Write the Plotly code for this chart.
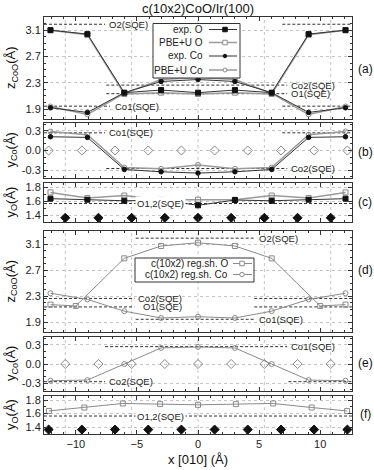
import plotly.graph_objects as go
from plotly.subplots import make_subplots

W, H = 374, 470
ML, MR, MT, MB = 44, 22, 17, 36
PW = W - ML - MR
PH = H - MT - MB
FONT = "Liberation Sans, Arial, sans-serif"

# ---------------- data ----------------
x_site = [-12.07, -9.05, -6.03, -3.02, 0.0, 3.02, 6.03, 9.05, 12.07]
x_ir = [-10.86, -8.145, -5.43, -2.715, 0.0, 2.715, 5.43, 8.145, 10.86]
x_ir_half = [-12.22, -9.50, -6.79, -4.07, -1.36, 1.36, 4.07, 6.79, 9.50, 12.22]

# (a) z_CoO
a_O_exp = [3.10, 3.04, 2.15, 2.19, 2.15, 2.19, 2.15, 3.04, 3.10]
a_O_pbe = [3.10, 3.03, 2.13, 2.15, 2.13, 2.15, 2.13, 3.03, 3.10]
a_Co_exp = [1.92, 1.85, 2.15, 2.32, 2.35, 2.32, 2.15, 1.85, 1.92]
a_Co_pbe = [1.94, 1.82, 2.14, 2.35, 2.38, 2.35, 2.14, 1.82, 1.94]
# (b) y_Co
b_Co_exp = [0.21, 0.20, -0.29, -0.325, -0.345, -0.325, -0.29, 0.20, 0.21]
b_Co_pbe = [0.29, 0.24, -0.26, -0.28, -0.22, -0.28, -0.26, 0.24, 0.29]
b_Ir = [0.0] * 10
# (c) y_O
c_O_exp = [1.635, 1.62, 1.605, 1.615, 1.54, 1.615, 1.605, 1.62, 1.635]
c_O_pbe = [1.725, 1.645, 1.68, 1.62, 1.62, 1.62, 1.68, 1.645, 1.725]
c_Ir = [1.36] * 9
# (d) z_CoO regular shift
d_x_O = [-12.07, -10.0, -6.03, -3.02, 0.0, 3.02, 6.03, 10.0, 12.07]
d_O = [2.17, 2.15, 2.88, 3.07, 3.12, 3.07, 2.88, 2.15, 2.17]
d_Co = [2.345, 2.25, 2.07, 1.965, 1.985, 1.965, 2.07, 2.25, 2.345]
# (e) y_Co regular shift
e_Co = [-0.26, -0.25, 0.0, 0.25, 0.265, 0.25, 0.0, -0.25, -0.26]
e_Ir = [0.0] * 9
# (f) y_O regular shift
f_x_O = [-12.2, -9.3, -6.15, -3.1, 0.0, 3.1, 6.15, 9.3, 12.2]
f_O = [1.64, 1.69, 1.75, 1.74, 1.73, 1.74, 1.75, 1.69, 1.64]
f_Ir = [1.365] * 10

# SQE reference values
sqe_O2, sqe_Co2, sqe_O1, sqe_Co1 = 3.19, 2.265, 2.135, 1.945
sqe_yCo1, sqe_yCo2 = 0.27, -0.275
sqe_yO = 1.565

x_grid = [-10.86, -5.43, 0.0, 5.43, 10.86]
x_ticks = [-10, -5, 0, 5, 10]

# ---------------- figure ----------------
fig = make_subplots(rows=6, cols=1, shared_xaxes=True, vertical_spacing=0.01)

def py2paper(py):
    return 1 - (py - MT) / PH

def px2paper(px):
    return (px - ML) / PW

panel_px = {1: (17, 119), 2: (123, 178), 3: (183, 222), 4: (231, 332), 5: (337, 391), 6: (396, 434)}

BLACK = "#111111"
DARK = "#333333"
GRAY = "#8a8a8a"
LGRAY = "#9a9a9a"
LBL = 9.5

def line_trace(x, y, row, color, width, symbol, msize, mfill, mline, name):
    fig.add_trace(go.Scatter(
        x=x, y=y, mode="lines+markers", name=name, showlegend=False,
        line=dict(color=color, width=width),
        marker=dict(symbol=symbol, size=msize, color=mfill, line=dict(color=mline, width=1)),
    ), row=row, col=1)

def pts(x, y, row, symbol, size, fill, edge, name):
    fig.add_trace(go.Scatter(
        x=x, y=y, mode="markers", name=name, showlegend=False,
        marker=dict(symbol=symbol, size=size, color=fill, line=dict(color=edge, width=1)),
    ), row=row, col=1)

def sqe(row, yv, segs, label, lx, anchor="left"):
    for (x0, x1) in segs:
        fig.add_trace(go.Scatter(x=[x0, x1], y=[yv, yv], mode="lines", showlegend=False,
                                 hoverinfo="skip",
                                 line=dict(color=DARK, width=1, dash="3px,2px")), row=row, col=1)
    if label:
        xr = "x" if row == 1 else f"x{row}"
        yr = "y" if row == 1 else f"y{row}"
        fig.add_annotation(x=lx, y=yv, xref=xr, yref=yr, text=label, showarrow=False,
                           xanchor=anchor, yanchor="middle",
                           font=dict(family=FONT, size=LBL, color="#222"))

L, R = -12.6, 12.6

# (a)
sqe(1, sqe_O2, [(L, -7.6), (6.9, R)], "O2(SQE)", -7.45)
sqe(1, sqe_Co2, [(-7.5, 7.3)], "Co2(SQE)", 7.45)
sqe(1, sqe_O1, [(-7.5, 7.3)], "O1(SQE)", 7.45)
sqe(1, sqe_Co1, [(L, -7.2), (6.9, R)], "Co1(SQE)", -6.95)
line_trace(x_site, a_O_pbe, 1, LGRAY, 1.5, "square-open", 5, GRAY, GRAY, "PBE+U O")
line_trace(x_site, a_Co_pbe, 1, LGRAY, 1.5, "circle-open", 5, GRAY, GRAY, "PBE+U Co")
line_trace(x_site, a_O_exp, 1, DARK, 1, "square", 5, BLACK, BLACK, "exp. O")
line_trace(x_site, a_Co_exp, 1, DARK, 1, "circle", 4.5, BLACK, BLACK, "exp. Co")

# (b)
sqe(2, sqe_yCo1, [(L, -7.6), (6.9, R)], "Co1(SQE)", -7.45)
sqe(2, sqe_yCo2, [(-7.5, 7.3)], "Co2(SQE)", 7.45)
pts(x_ir_half, b_Ir, 2, "diamond-open", 7, GRAY, GRAY, "Ir")
line_trace(x_site, b_Co_pbe, 2, LGRAY, 1.5, "circle-open", 5, GRAY, GRAY, "PBE+U Co")
line_trace(x_site, b_Co_exp, 2, DARK, 1, "circle", 4.5, BLACK, BLACK, "exp. Co")

# (c)
sqe(3, sqe_yO, [(L, R)], None, 0)
fig.add_annotation(x=-3.1, y=sqe_yO, xref="x3", yref="y3", text="O1,2(SQE)", showarrow=False,
                   xanchor="center", yanchor="middle", bgcolor="white",
                   font=dict(family=FONT, size=LBL, color="#222"))
pts(x_ir, c_Ir, 3, "diamond", 7, BLACK, BLACK, "Ir")
line_trace(x_site, c_O_pbe, 3, LGRAY, 1.5, "square-open", 5, GRAY, GRAY, "PBE+U O")
line_trace(x_site, c_O_exp, 3, DARK, 1, "square", 5, BLACK, BLACK, "exp. O")

# (d)
sqe(4, sqe_O2, [(-5.1, 4.7)], "O2(SQE)", 4.85)
sqe(4, sqe_Co2, [(L, -5.2), (4.6, R)], "Co2(SQE)", -5.05)
sqe(4, sqe_O1, [(L, -5.2), (4.6, R)], "O1(SQE)", -4.7)
sqe(4, sqe_Co1, [(-5.1, 4.7)], "Co1(SQE)", 4.85)
line_trace(d_x_O, d_O, 4, GRAY, 1, "square-open", 5, GRAY, GRAY, "c(10x2) reg.sh. O")
line_trace(x_site, d_Co, 4, GRAY, 1, "circle-open", 5, GRAY, GRAY, "c(10x2) reg.sh. Co")

# (e)
sqe(5, sqe_yCo1, [(-7.6, 7.3)], "Co1(SQE)", 7.45)
sqe(5, sqe_yCo2, [(L, -7.6), (7.4, R)], "Co2(SQE)", -7.45)
pts(x_ir, e_Ir, 5, "diamond-open", 7, GRAY, GRAY, "Ir")
line_trace(x_site, e_Co, 5, GRAY, 1, "circle-open", 5, GRAY, GRAY, "c(10x2) reg.sh. Co")

# (f)
sqe(6, sqe_yO, [(L, R)], None, 0)
fig.add_annotation(x=-3.1, y=sqe_yO, xref="x6", yref="y6", text="O1,2(SQE)", showarrow=False,
                   xanchor="center", yanchor="middle", bgcolor="white",
                   font=dict(family=FONT, size=LBL, color="#222"))
pts(x_ir_half, f_Ir, 6, "diamond", 7, BLACK, BLACK, "Ir")
line_trace(f_x_O, f_O, 6, GRAY, 1, "square-open", 5, GRAY, GRAY, "c(10x2) reg.sh. O")

# ---------------- axes ----------------
yranges = {1: [1.75, 3.3], 2: [-0.42, 0.42], 3: [1.3, 1.86], 4: [1.75, 3.3], 5: [-0.42, 0.42], 6: [1.3, 1.86]}
yticks = {1: [1.9, 2.3, 2.7, 3.1], 2: [-0.3, 0.0, 0.3], 3: [1.4, 1.6, 1.8],
          4: [1.9, 2.3, 2.7, 3.1], 5: [-0.3, 0.0, 0.3], 6: [1.4, 1.6, 1.8]}
ytext = {1: ["1.9", "2.3", "2.7", "3.1"], 2: ["-0.3", "0.0", "0.3"], 3: ["1.4", "1.6", "1.8"],
         4: ["1.9", "2.3", "2.7", "3.1"], 5: ["-0.3", "0.0", "0.3"], 6: ["1.4", "1.6", "1.8"]}

for r in range(1, 7):
    top, bot = panel_px[r]
    xa = "xaxis" if r == 1 else f"xaxis{r}"
    ya = "yaxis" if r == 1 else f"yaxis{r}"
    fig.layout[ya].update(
        domain=[py2paper(bot), py2paper(top)], range=yranges[r],
        tickvals=yticks[r], ticktext=ytext[r], ticks="inside", ticklen=4, tickcolor=DARK,
        showline=True, linecolor=DARK, linewidth=1, mirror="ticks",
        showgrid=True, gridcolor="#c4c4c4", griddash="dot", gridwidth=1, zeroline=False,
        minor=dict(dtick=0.1, ticks="inside", ticklen=2, tickcolor=DARK, showgrid=False),
        tickfont=dict(family=FONT, size=11, color="#222"),
    )
    fig.layout[xa].update(
        range=[L, R], tickvals=x_ticks, ticks="inside", ticklen=4, tickcolor=DARK,
        showline=True, linecolor=DARK, linewidth=1, mirror="ticks",
        showgrid=False, zeroline=False,
        minor=dict(dtick=1, ticks="inside", ticklen=2, tickcolor=DARK, showgrid=False),
        tickfont=dict(family=FONT, size=11, color="#222"),
    )
    xr = "x" if r == 1 else f"x{r}"
    yr = "y" if r == 1 else f"y{r}"
    for gx in x_grid:
        fig.add_shape(type="line", xref=xr, yref=f"{yr} domain", x0=gx, x1=gx, y0=0, y1=1,
                      line=dict(color="#c4c4c4", width=1, dash="dot"), layer="below")

# ---------------- manual legends ----------------
def legend_row(py, text, text_right_px, lx0, lx1, mx, lcolor, lwidth, mshape, mfill, medge, msz):
    fig.add_annotation(x=px2paper(text_right_px), y=py2paper(py), xref="paper", yref="paper",
                       text=text, showarrow=False, xanchor="right", yanchor="middle",
                       font=dict(family=FONT, size=10, color="#222"))
    fig.add_shape(type="line", xref="paper", yref="paper", x0=px2paper(lx0), x1=px2paper(lx1),
                  y0=py2paper(py), y1=py2paper(py), line=dict(color=lcolor, width=lwidth))
    h = msz / 2
    fig.add_shape(type=mshape, xref="paper", yref="paper",
                  x0=px2paper(mx - h), x1=px2paper(mx + h), y0=py2paper(py + h), y1=py2paper(py - h),
                  fillcolor=mfill, line=dict(color=medge, width=1))

fig.add_shape(type="rect", xref="paper", yref="paper", x0=px2paper(153), x1=px2paper(240),
              y0=py2paper(78), y1=py2paper(23.5), fillcolor="white", line=dict(color=DARK, width=1))
legend_row(29.5, "exp. O", 205, 209, 237, 225, DARK, 1, "rect", BLACK, BLACK, 4.5)
legend_row(42.5, "PBE+U O", 205, 209, 237, 225, LGRAY, 1.5, "rect", "white", GRAY, 4.5)
legend_row(56, "exp. Co", 205, 209, 237, 225, DARK, 1, "circle", BLACK, BLACK, 3.5)
legend_row(70, "PBE+U Co", 205, 209, 237, 225, LGRAY, 1.5, "circle", "white", GRAY, 4)

fig.add_shape(type="rect", xref="paper", yref="paper", x0=px2paper(135), x1=px2paper(254),
              y0=py2paper(282), y1=py2paper(258), fillcolor="white", line=dict(color=DARK, width=1))
legend_row(263.5, "c(10x2) reg.sh. O", 230, 233, 252, 242, GRAY, 1, "rect", "white", GRAY, 4.5)
legend_row(274.5, "c(10x2) reg.sh. Co", 230, 233, 252, 242, GRAY, 1, "circle", "white", GRAY, 4.5)

# ---------------- texts ----------------
ytitles = {1: "z<sub>CoO</sub>(Å)", 2: "y<sub>Co</sub>(Å)", 3: "y<sub>O</sub>(Å)",
           4: "z<sub>CoO</sub>(Å)", 5: "y<sub>Co</sub>(Å)", 6: "y<sub>O</sub>(Å)"}
for r, t in ytitles.items():
    top, bot = panel_px[r]
    fig.add_annotation(x=px2paper(11), y=py2paper((top + bot) / 2), xref="paper", yref="paper",
                       text=t, textangle=-90, showarrow=False, xanchor="center", yanchor="middle",
                       font=dict(family=FONT, size=13, color="#111"))

plabels = {1: ("(a)", 69), 2: ("(b)", 152), 3: ("(c)", 202), 4: ("(d)", 270), 5: ("(e)", 363), 6: ("(f)", 414)}
for r, (t, py) in plabels.items():
    fig.add_annotation(x=px2paper(365), y=py2paper(py), xref="paper", yref="paper", text=t,
                       showarrow=False, xanchor="center", yanchor="middle",
                       font=dict(family=FONT, size=12, color="#111"))

fig.add_annotation(x=px2paper(198), y=py2paper(459), xref="paper", yref="paper",
                   text="x [010] (Å)", showarrow=False, xanchor="center", yanchor="middle",
                   font=dict(family=FONT, size=13, color="#111"))
fig.add_annotation(x=px2paper(198), y=py2paper(9), xref="paper", yref="paper",
                   text="c(10x2)CoO/Ir(100)", showarrow=False, xanchor="center", yanchor="middle",
                   font=dict(family=FONT, size=13, color="#111"))

fig.update_layout(width=W, height=H, margin=dict(l=ML, r=MR, t=MT, b=MB),
                  plot_bgcolor="white", paper_bgcolor="white", showlegend=False,
                  font=dict(family=FONT))

fig.write_html("out.html", config={"displayModeBar": False},
               post_script="document.body.style.margin='0';document.body.style.overflow='hidden';")
